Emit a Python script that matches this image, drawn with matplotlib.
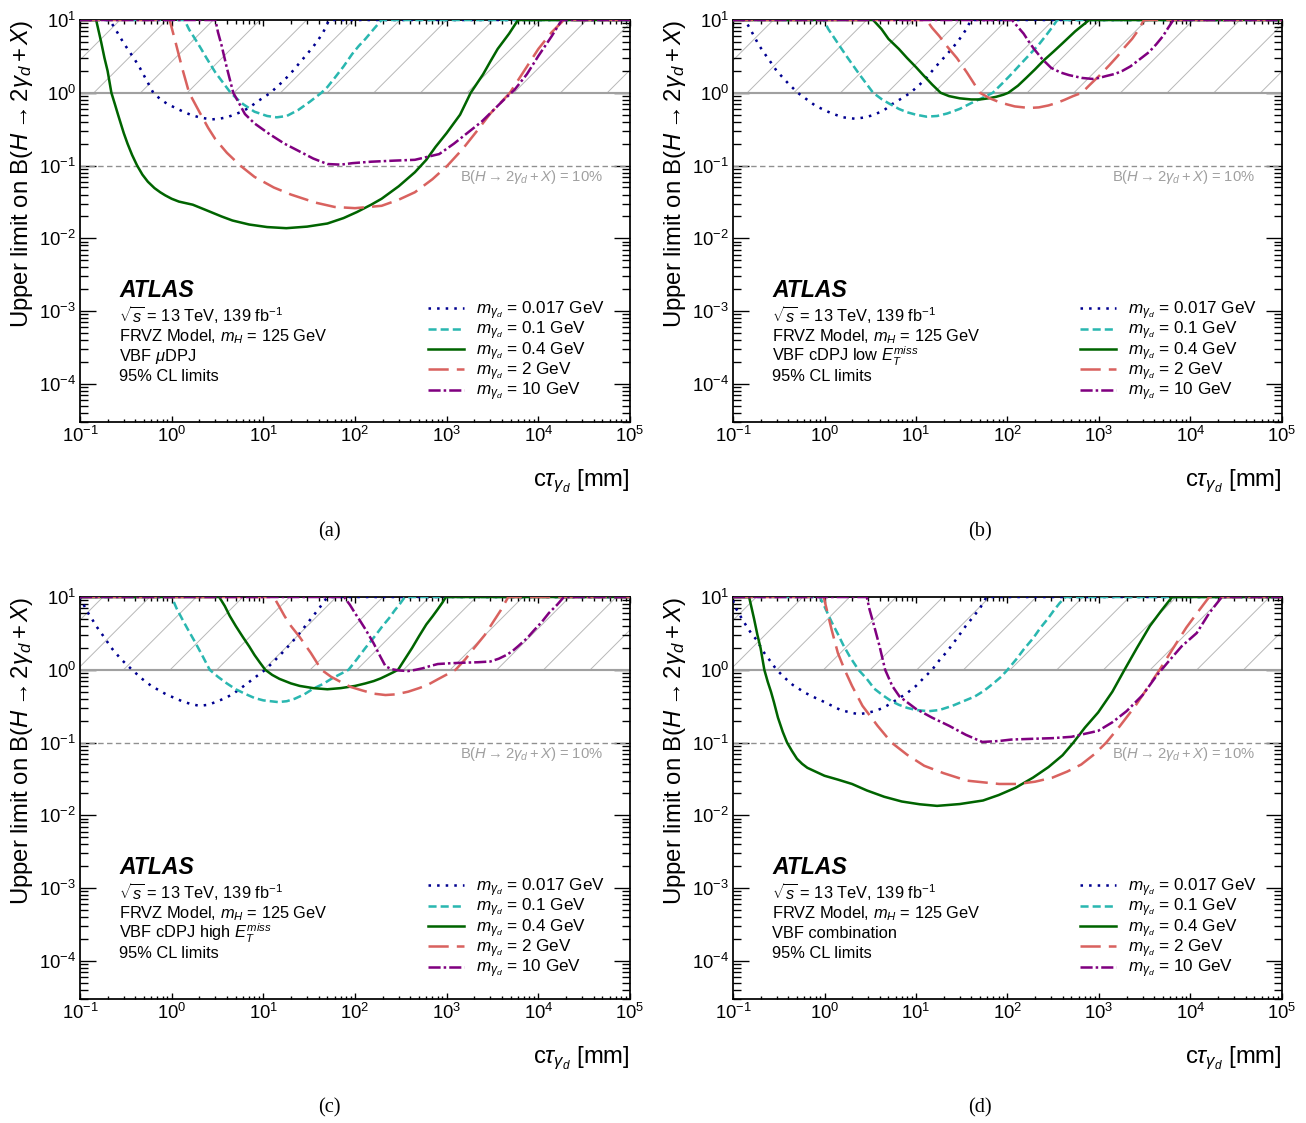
import matplotlib
matplotlib.use('Agg')
import matplotlib.pyplot as plt
from matplotlib.ticker import LogLocator, NullFormatter

plt.rcParams['font.family'] = ['Liberation Sans', 'DejaVu Sans']
plt.rcParams['mathtext.fontset'] = 'custom'
plt.rcParams['mathtext.rm'] = 'Liberation Sans'
plt.rcParams['mathtext.it'] = 'Liberation Sans:italic'
plt.rcParams['mathtext.bf'] = 'Liberation Sans:bold'
plt.rcParams['mathtext.sf'] = 'Liberation Sans'
plt.rcParams['hatch.linewidth'] = 0.5
plt.rcParams['hatch.color'] = '#b8b8b8'

# (c*tau [mm], upper limit), capped at 10
# panel (a) VBF muDPJ
a_017 = [(0.1, 10), (0.21, 10), (0.24, 7.7), (0.27, 6), (0.3, 4.8), (0.35, 3.6), (0.4, 2.8), (0.45, 2.2),
         (0.53, 1.5), (0.63, 1.0), (0.75, 0.82), (0.9, 0.7), (1.1, 0.62), (1.3, 0.56), (1.6, 0.5), (2.0, 0.46),
         (2.7, 0.43), (3.3, 0.44), (4.0, 0.46), (5, 0.51), (6, 0.56), (7.2, 0.64), (8.5, 0.75), (10, 0.86),
         (12, 1.0), (14, 1.2), (17, 1.5), (21, 2.0), (25, 2.6), (30, 3.4), (35, 4.3), (40, 5.4), (45, 6.8),
         (48, 8), (52, 10), (1e5, 10)]
a_01 = [(0.1, 10), (1.38, 10), (1.55, 7.4), (1.8, 5.5), (2.1, 4.0), (2.4, 3.0), (3.0, 1.9), (3.6, 1.4),
        (4.4, 1.0), (5.2, 0.82), (6, 0.7), (8, 0.55), (11, 0.48), (14, 0.46), (18, 0.48), (24, 0.58),
        (32, 0.75), (43, 1.0), (50, 1.2), (60, 1.6), (75, 2.3), (93, 3.4), (110, 4.4), (130, 5.5), (160, 7.5),
        (195, 10), (1e5, 10)]
a_04 = [(0.1, 10), (0.15, 10), (0.16, 7), (0.17, 5), (0.185, 3), (0.2, 2), (0.22, 1.0), (0.24, 0.7),
        (0.26, 0.5), (0.28, 0.37), (0.3, 0.28), (0.33, 0.2), (0.37, 0.14), (0.42, 0.1), (0.48, 0.075),
        (0.55, 0.06), (0.65, 0.049), (0.75, 0.043), (0.85, 0.039), (1.0, 0.035), (1.2, 0.032), (1.7, 0.029),
        (2.46, 0.024), (3.5, 0.02), (4.6, 0.0176), (7, 0.0155), (11, 0.0143), (17.8, 0.0138), (30, 0.0145),
        (50, 0.016), (75, 0.019), (105, 0.023), (150, 0.029), (195, 0.035), (300, 0.052), (450, 0.081),
        (600, 0.12), (755, 0.18), (1000, 0.28), (1400, 0.5), (1830, 1.0), (2500, 1.8), (3000, 2.7),
        (3600, 4.0), (4800, 6.5), (6000, 10), (1e5, 10)]
a_2 = [(0.1, 10), (0.95, 10), (1.1, 5), (1.3, 2.2), (1.55, 1.0), (2.0, 0.55), (2.5, 0.33), (3.0, 0.23),
       (4.0, 0.15), (5.6, 0.1), (8, 0.07), (13, 0.05), (20, 0.04), (37, 0.031), (60, 0.027), (100, 0.026),
       (195, 0.028), (300, 0.034), (450, 0.043), (700, 0.065), (1020, 0.1), (1500, 0.17), (2100, 0.29),
       (3000, 0.52), (4900, 1.0), (7000, 2.0), (10000, 4.0), (14000, 6.8), (19000, 10), (1e5, 10)]
a_10 = [(0.1, 10), (3.0, 10), (3.2, 6.8), (3.5, 4.5), (4.0, 2.2), (4.7, 1.0), (5.5, 0.7), (6.3, 0.51),
        (8, 0.38), (11.7, 0.27), (17, 0.2), (24, 0.16), (35, 0.125), (50, 0.105), (70, 0.103), (94, 0.108),
        (150, 0.113), (270, 0.117), (450, 0.12), (830, 0.144), (1200, 0.2), (1740, 0.29), (2400, 0.4),
        (3200, 0.57), (4200, 0.8), (5500, 1.1), (7500, 1.8), (10000, 3.2), (14000, 6), (18000, 10), (1e5, 10)]

# panel (b) VBF cDPJ low MET
b_017 = [(0.1, 10), (0.135, 10), (0.15, 8), (0.17, 6), (0.19, 4.6), (0.22, 3.5), (0.26, 2.6), (0.3, 2.0),
         (0.4, 1.35), (0.51, 1.0), (0.65, 0.8), (0.8, 0.66), (1.2, 0.52), (1.6, 0.46), (2.15, 0.44),
         (2.8, 0.46), (3.5, 0.5), (4.5, 0.58), (5.5, 0.7), (7, 0.84), (8.7, 1.0), (11, 1.3), (13, 1.6),
         (16, 2.2), (20, 3.0), (25, 4.1), (30, 5.5), (35, 7.3), (40, 10), (1e5, 10)]
b_01 = [(0.1, 10), (0.98, 10), (1.1, 7.5), (1.3, 5.5), (1.5, 4.2), (1.8, 3.0), (2.4, 1.8), (3.4, 1.0),
        (4.2, 0.82), (5, 0.72), (6.5, 0.6), (8, 0.54), (10, 0.5), (13, 0.47), (17, 0.48), (22, 0.52),
        (30, 0.6), (40, 0.72), (53, 0.85), (69, 1.0), (88, 1.35), (110, 1.8), (140, 2.5), (180, 3.5),
        (220, 4.6), (260, 6), (300, 7.6), (350, 10), (1e5, 10)]
b_04 = [(0.1, 10), (3.4, 10), (4.2, 7.5), (5, 5.5), (6.5, 4), (8, 3.0), (10, 2.25), (12, 1.75), (15, 1.3),
        (18.6, 1.0), (23, 0.9), (30, 0.84), (40, 0.81), (50, 0.81), (62, 0.84), (75, 0.88), (90, 0.94),
        (102, 1.0), (130, 1.25), (160, 1.6), (200, 2.1), (250, 2.8), (320, 3.7), (400, 4.8), (550, 7),
        (780, 10), (1e5, 10)]
b_2 = [(0.1, 10), (13, 10), (15, 7.8), (18, 6), (22, 4.3), (28, 3), (36, 1.9), (50, 1.0), (64, 0.84),
       (80, 0.75), (100, 0.69), (120, 0.65), (150, 0.63), (178, 0.62), (220, 0.63), (280, 0.67), (350, 0.73),
       (420, 0.8), (520, 0.9), (650, 1.0), (800, 1.3), (1000, 1.7), (1300, 2.4), (1600, 3.2), (1900, 4.2),
       (2300, 5.5), (2700, 7.3), (3100, 10), (1e5, 10)]
b_10 = [(0.1, 10), (112, 10), (130, 8), (150, 6.5), (170, 5.1), (195, 4.0), (240, 2.9), (300, 2.2),
        (380, 1.9), (470, 1.75), (650, 1.6), (850, 1.55), (1000, 1.6), (1200, 1.7), (1500, 1.82), (1800, 2.0),
        (2200, 2.3), (2600, 2.7), (3000, 3.1), (3500, 3.6), (4200, 4.6), (5000, 6), (5700, 7.8), (6500, 10),
        (1e5, 10)]

# panel (c) VBF cDPJ high MET
c_017 = [(0.1, 10), (0.107, 8.3), (0.12, 6.3), (0.135, 5), (0.15, 4), (0.18, 2.9), (0.22, 2.0), (0.28, 1.4),
         (0.37, 1.0), (0.47, 0.76), (0.6, 0.6), (0.87, 0.46), (1.3, 0.37), (1.6, 0.34), (2.0, 0.32),
         (2.5, 0.33), (3.0, 0.36), (3.7, 0.4), (4.6, 0.46), (5.7, 0.56), (7, 0.68), (8.6, 0.83), (10.5, 1.0),
         (13, 1.3), (16, 1.7), (20, 2.3), (25, 3.2), (30, 4.3), (35, 5.5), (42, 7.4), (50, 10), (1e5, 10)]
c_01 = [(0.1, 10), (1.0, 10), (1.13, 7), (1.3, 5), (1.5, 3.6), (1.8, 2.4), (2.2, 1.5), (2.6, 1.0),
        (3.2, 0.8), (4, 0.65), (5, 0.54), (6.5, 0.46), (8, 0.41), (10, 0.38), (14.5, 0.36), (18, 0.37),
        (22, 0.4), (28, 0.46), (35, 0.55), (45, 0.64), (55, 0.75), (70, 0.88), (85, 1.0), (105, 1.4),
        (130, 2.0), (165, 2.9), (200, 4.0), (235, 5.1), (270, 6.5), (310, 8.1), (350, 10), (1e5, 10)]
c_04 = [(0.1, 10), (3.3, 10), (3.8, 7.5), (4.3, 5.5), (5, 4), (6, 2.8), (7, 2.1), (8, 1.6), (9.2, 1.25),
        (10.5, 1.0), (12.5, 0.85), (15, 0.75), (20, 0.65), (25, 0.6), (35, 0.56), (50, 0.54), (70, 0.56),
        (100, 0.6), (130, 0.65), (160, 0.7), (190, 0.76), (220, 0.83), (260, 0.92), (295, 1.0), (350, 1.4),
        (420, 2.0), (500, 2.9), (600, 4.2), (700, 5.4), (800, 6.8), (900, 8.4), (980, 10), (1e5, 10)]
c_2 = [(0.1, 10), (13, 10), (15, 7.3), (17, 5.5), (20, 4), (25, 2.8), (33, 1.7), (43, 1.0), (55, 0.8),
       (70, 0.68), (90, 0.58), (120, 0.52), (160, 0.47), (215, 0.45), (280, 0.46), (380, 0.5), (500, 0.56),
       (620, 0.62), (800, 0.74), (1000, 0.86), (1250, 1.0), (1600, 1.4), (2000, 2.0), (2600, 3.0),
       (3200, 4.5), (3900, 6.6), (4700, 10), (1e5, 10)]
c_10 = [(0.1, 10), (76, 10), (88, 7.8), (100, 6), (115, 4.6), (130, 3.6), (160, 2.3), (190, 1.5),
        (215, 1.12), (250, 1.02), (300, 0.98), (380, 0.96), (460, 1.0), (550, 1.05), (650, 1.12), (800, 1.2),
        (1100, 1.23), (1500, 1.25), (2200, 1.27), (3000, 1.3), (3700, 1.42), (4500, 1.6), (5200, 1.8),
        (6000, 2.1), (7500, 2.7), (9000, 3.5), (11000, 4.6), (13000, 6), (16000, 7.8), (19000, 10), (1e5, 10)]

# panel (d) VBF combination
d_017 = [(0.1, 9), (0.105, 7.4), (0.12, 5.5), (0.14, 4), (0.16, 3.1), (0.18, 2.6), (0.22, 1.7), (0.3, 1.0),
         (0.37, 0.77), (0.45, 0.62), (0.62, 0.48), (0.8, 0.41), (1.0, 0.36), (1.5, 0.28), (1.9, 0.26),
         (2.35, 0.245), (2.9, 0.255), (3.5, 0.27), (4.4, 0.3), (5.4, 0.35), (6.6, 0.41), (8, 0.48), (10, 0.6),
         (12, 0.76), (15, 1.0), (18, 1.35), (22, 1.8), (28, 2.7), (35, 4), (42, 5.3), (50, 7), (59, 10),
         (1e5, 10)]
d_01 = [(0.1, 10), (0.89, 10), (1.0, 7.4), (1.1, 5.7), (1.2, 4.5), (1.4, 3.1), (1.6, 2.2), (1.9, 1.5),
        (2.35, 1.0), (2.9, 0.75), (3.5, 0.55), (4.3, 0.45), (5.4, 0.37), (6.5, 0.33), (8, 0.3), (10, 0.28),
        (13.8, 0.27), (18, 0.28), (25, 0.32), (33, 0.37), (44, 0.43), (56, 0.52), (70, 0.65), (85, 0.8),
        (100, 1.0), (125, 1.4), (150, 1.9), (190, 2.7), (230, 3.8), (275, 5), (320, 6.5), (370, 8.2),
        (430, 10), (1e5, 10)]
d_04 = [(0.1, 10), (0.15, 10), (0.16, 7), (0.17, 5), (0.185, 3), (0.2, 2), (0.22, 1.0), (0.24, 0.68),
        (0.26, 0.5), (0.28, 0.36), (0.31, 0.22), (0.35, 0.14), (0.39, 0.1), (0.44, 0.077), (0.5, 0.06),
        (0.57, 0.051), (0.65, 0.045), (0.83, 0.039), (1.0, 0.035), (1.4, 0.031), (2.0, 0.027), (2.9, 0.022),
        (4.5, 0.018), (7, 0.0155), (11, 0.0142), (17, 0.0135), (30, 0.0143), (54, 0.016), (80, 0.019),
        (123, 0.024), (190, 0.033), (280, 0.046), (400, 0.067), (525, 0.1), (700, 0.16), (980, 0.26),
        (1400, 0.5), (1900, 1.0), (2600, 2.0), (3600, 4), (4800, 6.5), (6300, 10), (1e5, 10)]
d_2 = [(0.1, 10), (0.98, 10), (1.2, 3.5), (1.4, 1.7), (1.66, 1.0), (2.0, 0.6), (2.6, 0.32), (3.8, 0.17),
       (5.4, 0.1), (8, 0.068), (12.3, 0.048), (20, 0.038), (36, 0.03), (81, 0.027), (130, 0.027),
       (200, 0.029), (310, 0.033), (450, 0.04), (640, 0.05), (900, 0.07), (1200, 0.1), (1700, 0.17),
       (2500, 0.32), (3500, 0.6), (4600, 1.0), (6500, 2.0), (9000, 3.8), (12000, 6.2), (16000, 10), (1e5, 10)]
d_10 = [(0.1, 10), (2.9, 10), (3.1, 6.8), (3.4, 4.5), (4.0, 2.1), (4.6, 1.0), (5.5, 0.6), (6.6, 0.43),
        (10, 0.29), (15, 0.22), (23, 0.17), (35, 0.128), (53, 0.102), (80, 0.105), (110, 0.11), (200, 0.113),
        (310, 0.115), (500, 0.12), (980, 0.145), (1400, 0.19), (2000, 0.27), (3000, 0.45), (4200, 0.81),
        (5600, 1.25), (8000, 2.1), (11700, 3.2), (16000, 6), (22000, 10), (1e5, 10)]

masses = ['0.017', '0.1', '0.4', '2', '10']
colors = ['#000090', '#2ab7b0', '#006400', '#d9625f', '#800080']
styles = [(0, (1, 2.4)), (0, (3.2, 1.6)), '-', (0, (8, 3.2)), (0, (4.8, 1.2, 1, 1.2))]

channels = [r'VBF $\mu$DPJ', r'VBF cDPJ low $E_{T}^{miss}$', r'VBF cDPJ high $E_{T}^{miss}$', 'VBF combination']
curves = [[a_017, a_01, a_04, a_2, a_10], [b_017, b_01, b_04, b_2, b_10],
          [c_017, c_01, c_04, c_2, c_10], [d_017, d_01, d_04, d_2, d_10]]
letters = ['(a)', '(b)', '(c)', '(d)']
xticks = [1e-1, 1e0, 1e1, 1e2, 1e3, 1e4, 1e5]
yticks = [1e-4, 1e-3, 1e-2, 1e-1, 1e0, 1e1]

W, H, DPI = 1306, 1123, 140
fig = plt.figure(figsize=(W / DPI, H / DPI), dpi=DPI)

# axes boxes in pixels: left, top, right, bottom
boxes = [(80, 20, 630, 422), (733, 20, 1282, 422), (80, 597, 630, 999), (733, 597, 1282, 999)]
label_pos = [(329, 532), (980, 532), (329, 1108), (980, 1108)]


def draw_panel(ax, data, channel):
    ax.set_xscale('log')
    ax.set_yscale('log')

    # excluded region B > 1
    ax.fill_between([1e-1, 1e5], 1, 10, facecolor='none', edgecolor='#b8b8b8', hatch='/', linewidth=0)
    ax.axhline(1, color='#a0a0a0', lw=1.1, zorder=2)
    ax.axhline(0.1, color='#909090', lw=0.7, ls=(0, (4, 2.5)), zorder=2)
    ax.text(0.951, 0.61, r'B($H\rightarrow 2\gamma_{d}+X$) = 10%', transform=ax.transAxes,
            ha='right', va='center', fontsize=7.6, color='#a0a0a0')

    for pts, m, c, ls in zip(data, masses, colors, styles):
        x, y = zip(*pts)
        ax.plot(x, y, color=c, ls=ls, lw=1.3, label=r'$m_{\gamma_{d}}$ = ' + m + ' GeV', zorder=3)

    ax.set_xticks(xticks)
    ax.set_yticks(yticks)
    ax.xaxis.set_minor_locator(LogLocator(base=10, subs=range(2, 10), numticks=20))
    ax.yaxis.set_minor_locator(LogLocator(base=10, subs=range(2, 10), numticks=20))
    ax.xaxis.set_minor_formatter(NullFormatter())
    ax.yaxis.set_minor_formatter(NullFormatter())
    ax.set_xlim(1e-1, 1e5)
    ax.set_ylim(3e-5, 10)
    ax.tick_params(which='both', direction='in', top=True, right=True, labelsize=9.5, width=0.7)
    ax.tick_params(axis='y', which='major', length=8.2, pad=2)
    ax.tick_params(axis='y', which='minor', length=4.1)
    ax.tick_params(axis='x', which='major', length=3.1, pad=2)
    ax.tick_params(axis='x', which='minor', length=1.8)
    for s in ax.spines.values():
        s.set_linewidth(0.9)

    ax.text(1.0, -0.147, r'c$\tau_{\gamma_{d}}$ [mm]', transform=ax.transAxes, ha='right', va='center',
            fontsize=12.3)
    ax.text(-0.106, 1.0, r'Upper limit on B($H\rightarrow 2\gamma_{d}+X$)', transform=ax.transAxes,
            rotation=90, ha='center', va='top', fontsize=12.3)

    ax.text(0.071, 0.326, 'ATLAS', transform=ax.transAxes, fontsize=11.8, fontweight='bold',
            fontstyle='italic', va='center')
    info = [r'$\sqrt{s}$ = 13 TeV, 139 fb$^{-1}$', r'FRVZ Model, $m_{H}$ = 125 GeV', channel, '95% CL limits']
    for txt, yy in zip(info, [0.266, 0.212, 0.163, 0.113]):
        ax.text(0.071, yy, txt, transform=ax.transAxes, fontsize=8.4, va='center')

    ax.legend(loc='upper right', bbox_to_anchor=(0.955, 0.305), frameon=False, fontsize=8.8,
              handlelength=2.1, handletextpad=0.7, labelspacing=-0.13, borderpad=0, borderaxespad=0)


for box, data, channel, letter, lp in zip(boxes, curves, channels, letters, label_pos):
    l, t, r, b = box
    ax = fig.add_axes([l / W, 1 - b / H, (r - l) / W, (b - t) / H])
    draw_panel(ax, data, channel)
    fig.text(lp[0] / W, 1 - lp[1] / H, letter, ha='center', va='center', fontsize=10.5,
             family='Liberation Serif')

fig.savefig('out.png', dpi=DPI)
